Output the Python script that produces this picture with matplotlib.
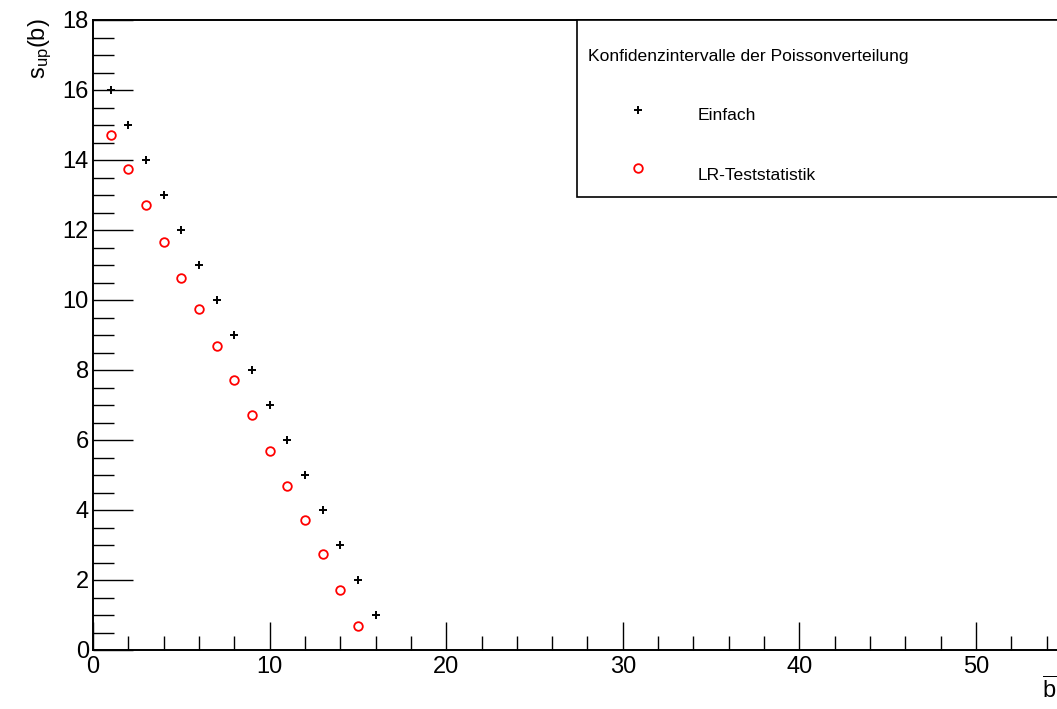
import matplotlib.pyplot as plt
from matplotlib.lines import Line2D
from matplotlib.patches import Rectangle
from matplotlib.ticker import MultipleLocator

plt.rcParams['font.family'] = ['Liberation Sans', 'DejaVu Sans']
plt.rcParams['mathtext.fontset'] = 'custom'
plt.rcParams['mathtext.rm'] = 'Liberation Sans'
plt.rcParams['mathtext.it'] = 'Liberation Sans'

# simple interval: s_up(b)
b_einfach = [1, 2, 3, 4, 5, 6, 7, 8, 9, 10, 11, 12, 13, 14, 15, 16]
s_einfach = [16, 15, 14, 13, 12, 11, 10, 9, 8, 7, 6, 5, 4, 3, 2, 1]

# likelihood ratio test statistic
b_lr = [1, 2, 3, 4, 5, 6, 7, 8, 9, 10, 11, 12, 13, 14, 15]
s_lr = [14.71, 13.73, 12.72, 11.66, 10.63, 9.74, 8.69, 7.71, 6.71, 5.69,
        4.69, 3.71, 2.74, 1.71, 0.69]

W, H = 1057, 709
fig = plt.figure(figsize=(W / 100, H / 100), dpi=100)
px = 17.66  # pixels per x unit
ax = fig.add_axes([93 / W, (H - 650) / H, 60 * px / W, 630 / H])

ax.plot(b_einfach, s_einfach, linestyle='none', marker='+', color='black',
        markersize=5.5, markeredgewidth=1.4, clip_on=False)
ax.plot(b_lr, s_lr, linestyle='none', marker='o', markerfacecolor='none',
        markeredgecolor='red', markersize=6.2, markeredgewidth=1.3)

ax.set_xlim(0, 60)
ax.set_ylim(0, 18)
ax.xaxis.set_major_locator(MultipleLocator(10))
ax.xaxis.set_minor_locator(MultipleLocator(2))
ax.yaxis.set_major_locator(MultipleLocator(2))
ax.yaxis.set_minor_locator(MultipleLocator(0.5))
ax.tick_params(axis='both', which='both', direction='in', labelsize=17,
               top=False, right=False, width=1)
ax.tick_params(axis='x', which='major', length=20, pad=4)
ax.tick_params(axis='x', which='minor', length=10)
ax.tick_params(axis='y', which='major', length=29, pad=3)
ax.tick_params(axis='y', which='minor', length=15)
for s in ax.spines.values():
    s.set_linewidth(1.4)

fig.text(40 / W, 1 - 18 / H, r'$\mathrm{s_{up}(b)}$', rotation=90,
         ha='center', va='top', fontsize=17)
fig.text(1050 / W, 1 - 690 / H, r'$\overline{\mathrm{b}}$',
         ha='center', va='center', fontsize=17)

# legend box
fig.add_artist(Rectangle((577 / W, 1 - 197 / H), (W - 577 + 10) / W, 177 / H,
                         transform=fig.transFigure, facecolor='white',
                         edgecolor='black', linewidth=1.2))
fig.text(588 / W, 1 - 57 / H, 'Konfidenzintervalle der Poissonverteilung',
         ha='left', va='center', fontsize=12.6)
fig.add_artist(Line2D([638 / W], [1 - 110 / H], transform=fig.transFigure,
                      marker='+', color='black', markersize=5.5,
                      markeredgewidth=1.4))
fig.text(698 / W, 1 - 116 / H, 'Einfach', ha='left', va='center', fontsize=12.6)
fig.add_artist(Line2D([638 / W], [1 - 168 / H], transform=fig.transFigure,
                      marker='o', markerfacecolor='none', markeredgecolor='red',
                      markersize=6.2, markeredgewidth=1.3))
fig.text(698 / W, 1 - 175 / H, 'LR-Teststatistik', ha='left', va='center',
         fontsize=12.6)

fig.savefig('out.png', dpi=100)
